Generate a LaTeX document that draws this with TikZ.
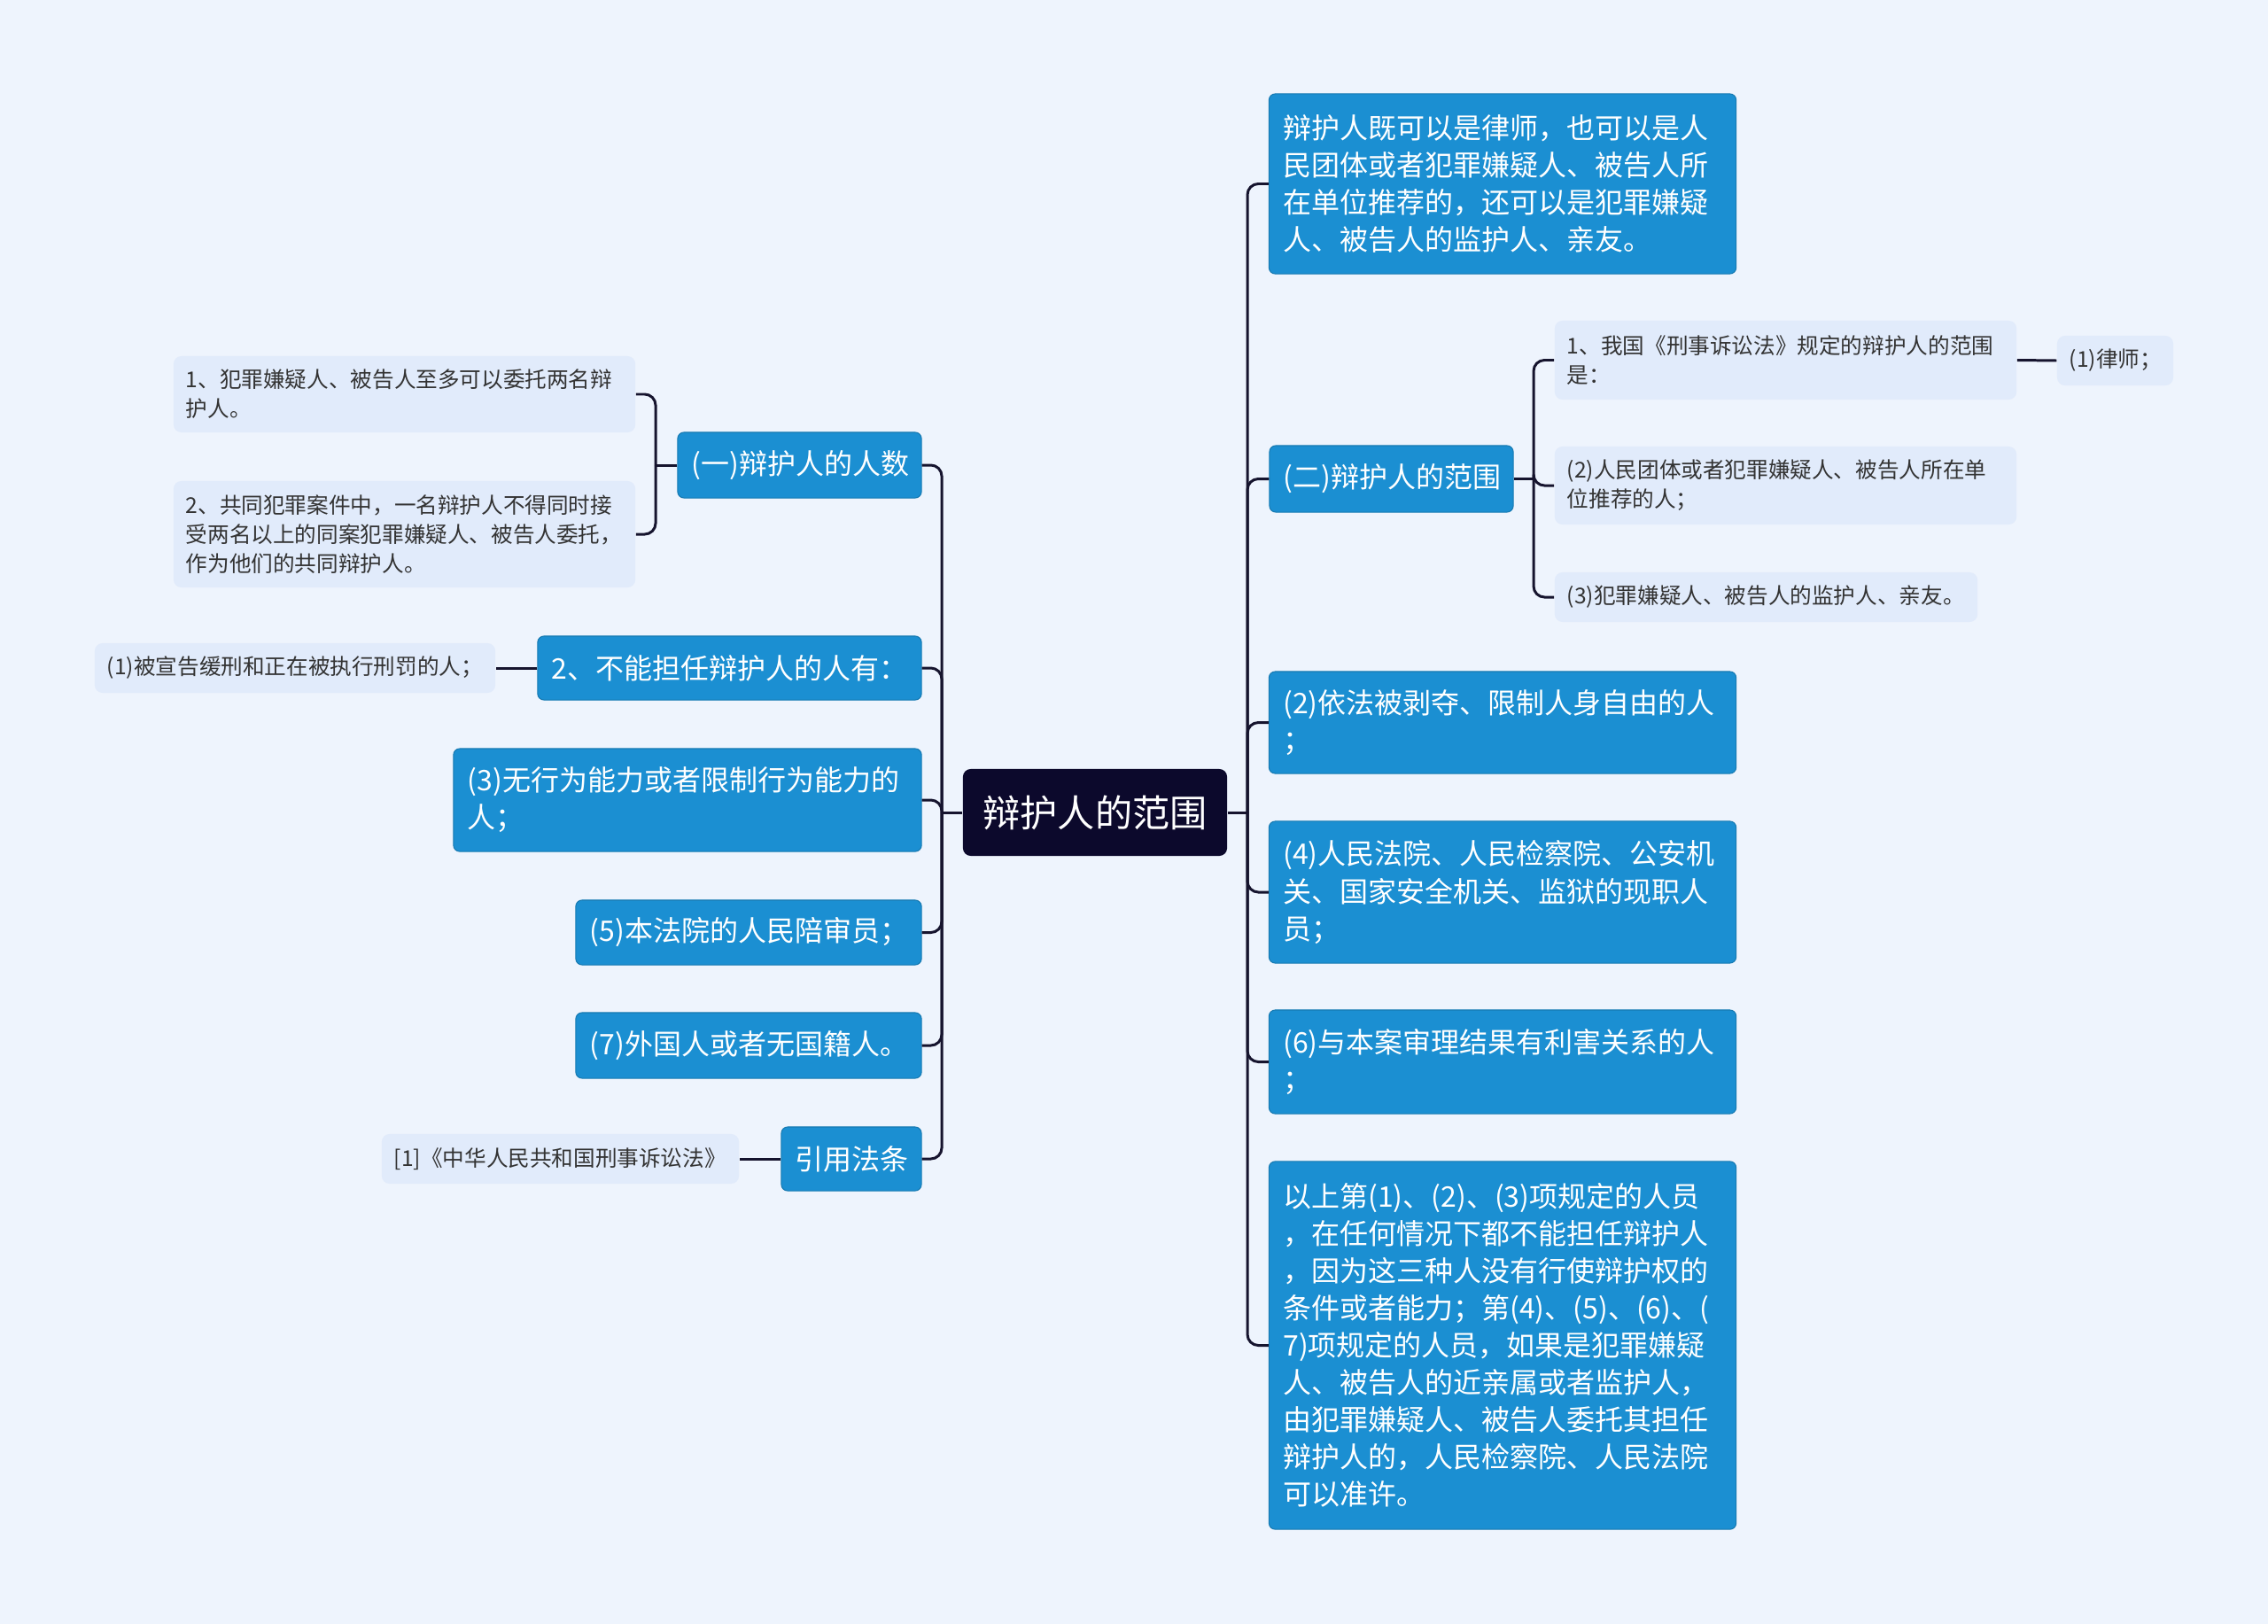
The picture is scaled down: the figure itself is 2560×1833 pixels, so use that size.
\documentclass[tikz,border=0pt]{standalone}
\usepackage{fontspec}
\setmainfont{Noto Sans CJK SC}
\usepackage{xcolor}
\usepackage{tikz}

\definecolor{bgcol}{RGB}{238,244,253}
\definecolor{topiccol}{RGB}{27,143,210}
\definecolor{rootcol}{RGB}{12,9,44}
\definecolor{leafcol}{RGB}{225,235,251}
\definecolor{linecol}{RGB}{22,20,46}

\begin{document}
\begin{tikzpicture}[
    x=0.01cm, y=-0.01cm,
    root/.style={fill=rootcol, rounded corners=2.5pt, text=white, align=center,
                 font=\fontsize{12pt}{14pt}\selectfont},
    topic/.style={fill=topiccol, draw=topiccol!85!black, line width=0.3pt, rounded corners=2pt,
                  text=white, align=left, inner xsep=0.16cm, inner ysep=0pt,
                  font=\fontsize{9.1pt}{11.95pt}\selectfont},
    leaf/.style={fill=leafcol, rounded corners=2.5pt, text=black!80, align=left,
                 inner xsep=0.14cm, inner ysep=0pt,
                 font=\fontsize{7pt}{9.4pt}\selectfont},
    link/.style={draw=linecol, line width=0.85pt, rounded corners=3.5pt},
]
\useasboundingbox (0,0) rectangle (2560,1833);
\fill[bgcol] (0,0) rectangle (2560,1833);

% centre
\node[root, minimum width=2.98cm, minimum height=0.98cm] (root) at (1236,917) {辩护人的范围};

% left side
\node[topic, text width=2.43cm, minimum height=0.74cm] (t1) at (902.5,525) {(一)辩护人的人数};
\node[topic, text width=4.01cm, minimum height=0.72cm] (t2) at (823.5,754) {2、不能担任辩护人的人有：};
\node[topic, text width=4.96cm, minimum height=1.16cm] (t3) at (776,903) {(3)无行为能力或者限制行为能力的\\人；};
\node[topic, text width=3.58cm, minimum height=0.73cm] (t4) at (845,1052.5) {(5)本法院的人民陪审员；};
\node[topic, text width=3.58cm, minimum height=0.74cm] (t5) at (845,1180) {(7)外国人或者无国籍人。};
\node[topic, text width=1.26cm, minimum height=0.72cm] (t6) at (961,1308) {引用法条};

\node[leaf, text width=4.93cm, minimum height=0.86cm] (l1) at (456.5,445) {1、犯罪嫌疑人、被告人至多可以委托两名辩\\护人。};
\node[leaf, text width=4.93cm, minimum height=1.20cm] (l2) at (456.5,603) {2、共同犯罪案件中，一名辩护人不得同时接\\受两名以上的同案犯罪嫌疑人、被告人委托，\\作为他们的共同辩护人。};
\node[leaf, text width=4.24cm, minimum height=0.56cm] (l3) at (333,754) {(1)被宣告缓刑和正在被执行刑罚的人；};
\node[leaf, text width=3.75cm, minimum height=0.56cm] (l4) at (632.5,1308) {[1]《中华人民共和国刑事诉讼法》};

% right side
\node[topic, text width=4.95cm, minimum height=2.03cm] (r1) at (1696,207.5) {辩护人既可以是律师，也可以是人\\民团体或者犯罪嫌疑人、被告人所\\在单位推荐的，还可以是犯罪嫌疑\\人、被告人的监护人、亲友。};
\node[topic, text width=2.43cm, minimum height=0.75cm] (r2) at (1570.5,540.5) {(二)辩护人的范围};
\node[topic, text width=4.95cm, minimum height=1.15cm] (r3) at (1696,815.5) {(2)依法被剥夺、限制人身自由的人\\；};
\node[topic, text width=4.95cm, minimum height=1.60cm] (r4) at (1696,1007) {(4)人民法院、人民检察院、公安机\\关、国家安全机关、监狱的现职人\\员；};
\node[topic, text width=4.95cm, minimum height=1.17cm] (r5) at (1696,1198.5) {(6)与本案审理结果有利害关系的人\\；};
\node[topic, text width=4.95cm, minimum height=4.15cm] (r6) at (1696,1518.5) {以上第(1)、(2)、(3)项规定的人员\\，在任何情况下都不能担任辩护人\\，因为这三种人没有行使辩护权的\\条件或者能力；第(4)、(5)、(6)、(\\7)项规定的人员，如果是犯罪嫌疑\\人、被告人的近亲属或者监护人，\\由犯罪嫌疑人、被告人委托其担任\\辩护人的，人民检察院、人民法院\\可以准许。};

\node[leaf, text width=4.93cm, minimum height=0.89cm] (s1) at (2015.5,406.5) {1、我国《刑事诉讼法》规定的辩护人的范围\\是：};
\node[leaf, text width=1.03cm, minimum height=0.56cm] (s2) at (2387.5,407) {(1)律师；};
\node[leaf, text width=4.93cm, minimum height=0.88cm] (s3) at (2015.5,548) {(2)人民团体或者犯罪嫌疑人、被告人所在单\\位推荐的人；};
\node[leaf, text width=4.49cm, minimum height=0.56cm] (s4) at (1993.5,674) {(3)犯罪嫌疑人、被告人的监护人、亲友。};

% trunks
\coordinate (lt) at (1063,917);
\coordinate (rt) at (1408,917);
\coordinate (c1) at (740,525);
\coordinate (c2) at (1731,540.5);

\draw[link] (root.west) -- (lt);
\draw[link] (root.east) -- (rt);
\foreach \n in {t1,t2,t3,t4,t5,t6}
    \draw[link] (lt) |- (\n.east);
\foreach \n in {r1,r2,r3,r4,r5,r6}
    \draw[link] (rt) |- (\n.west);

% sub branches
\draw[link] (t1.west) -- (c1);
\draw[link] (c1) |- (l1.east);
\draw[link] (c1) |- (l2.east);
\draw[link] (t2.west) -- (l3.east);
\draw[link] (t6.west) -- (l4.east);

\draw[link] (r2.east) -- (c2);
\foreach \n in {s1,s3,s4}
    \draw[link] (c2) |- (\n.west);
\draw[link] (s1.east) -- (s2.west);

\end{tikzpicture}
\end{document}
